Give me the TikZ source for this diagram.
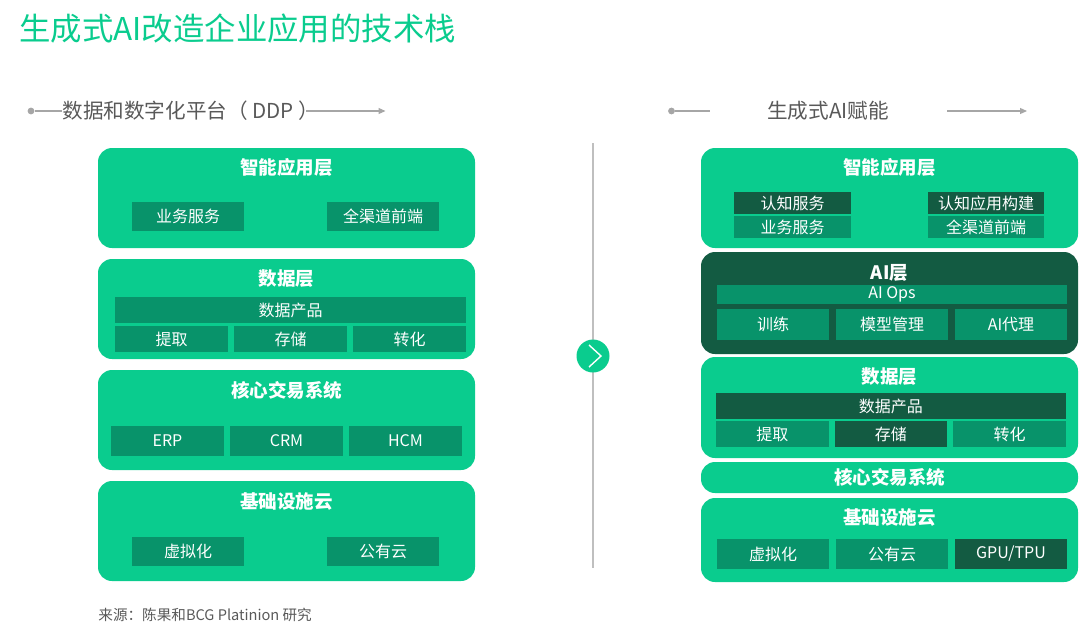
\documentclass[tikz,border=0pt]{standalone}
\usepackage{fontspec}
\setmainfont{Noto Sans CJK SC}
\usepackage{tikz}
\usetikzlibrary{arrows.meta,positioning}
\definecolor{brandgreen}{HTML}{0ACC8E}
\definecolor{midgreen}{HTML}{08936A}
\definecolor{deepgreen}{HTML}{135B42}
\definecolor{textgray}{HTML}{595959}
\definecolor{rulegray}{HTML}{A6A6A6}
\definecolor{dividergray}{HTML}{BFBFBF}

\begin{document}
\begin{tikzpicture}[
  layerbox/.style={fill=brandgreen, rounded corners=7pt, minimum width=188.5pt,
                   minimum height=50pt, inner sep=0pt, outer sep=0pt},
  layertitle/.style={text=white, font=\fontsize{9.25}{11}\selectfont\bfseries, inner sep=0pt},
  subbox/.style={fill=midgreen, text=white, font=\fontsize{8}{9}\selectfont,
                 inner sep=0pt, outer sep=0pt, minimum height=14.5pt},
  deepbox/.style={subbox, fill=deepgreen},
  headtext/.style={text=textgray, font=\fontsize{10.3}{12}\selectfont, inner sep=0pt},
  ruleline/.style={draw=rulegray, line width=0.6pt},
  enddot/.style={circle, fill=rulegray, inner sep=0pt, minimum size=3.4pt},
  rulearrow/.style={ruleline, -{Triangle[length=3.5pt, width=3pt]}}
]
\path[use as bounding box] (0,0) rectangle (540pt,-316pt);

\node[anchor=west, inner sep=0pt, text=brandgreen, font=\fontsize{15.7}{18}\selectfont]
  (title) at (9.5pt,-14.5pt) {生成式AI改造企业应用的技术栈};

% headers
\node[enddot] (ldot) at (15.5pt,-55.5pt) {};
\node[headtext, anchor=west] (ddp) at (31pt,-55.5pt) {数据和数字化平台（ DDP ）};
\coordinate (ddpend) at (192.75pt,-55.5pt);
\draw[ruleline] (ldot) -- (ddp);
\draw[rulearrow, shorten <=-6.5pt] (ddp) -- (ddpend);

\node[enddot] (rdot) at (335.75pt,-55.5pt) {};
\node[headtext] (genai) at (414pt,-55.5pt) {生成式AI赋能};
\coordinate (genaiend) at (513.5pt,-55.5pt);
\draw[ruleline, shorten >=28.5pt] (rdot) -- (genai);
\draw[rulearrow, shorten <=29pt] (genai) -- (genaiend);

% divider
\coordinate (divtop) at (296.5pt,-71.5pt);
\coordinate (divbot) at (296.5pt,-284pt);
\draw[dividergray, line width=0.75pt] (divtop) -- (divbot);
\node[circle, fill=brandgreen, minimum size=16.5pt, inner sep=0pt] (turn) at (296.5pt,-178pt) {};
\draw[white, line width=0.7pt] ([shift={(-2pt,5.5pt)}]turn.center)
  -- ([shift={(4pt,0pt)}]turn.center) -- ([shift={(-2pt,-5.5pt)}]turn.center);

% left stack
\node[layerbox, anchor=north west] (l1) at (49pt,-74pt) {};
\node[layerbox, below=5.5pt of l1] (l2) {};
\node[layerbox, below=5.5pt of l2] (l3) {};
\node[layerbox, below=5.5pt of l3] (l4) {};

\node[layertitle] (l1t) at ([yshift=-9.5pt]l1.north) {智能应用层};
\node[layertitle] (l2t) at ([yshift=-10pt]l2.north) {数据层};
\node[layertitle] (l3t) at ([yshift=-10pt]l3.north) {核心交易系统};
\node[layertitle] (l4t) at ([yshift=-10pt]l4.north) {基础设施云};

\node[subbox, minimum width=56pt, below right=27pt and 17pt of l1.north west] (l1a) {业务服务};
\node[subbox, minimum width=56pt, below left=27pt and 18pt of l1.north east] (l1b) {全渠道前端};

\node[subbox, minimum width=175.5pt, minimum height=13pt,
      below right=19pt and 8.5pt of l2.north west] (l2bar) {数据产品};
\node[subbox, minimum width=56.5pt, minimum height=13pt,
      below right=1.5pt and 0pt of l2bar.south west] (l2a) {提取};
\node[subbox, minimum width=56.5pt, minimum height=13pt, right=3pt of l2a] (l2b) {存储};
\node[subbox, minimum width=56.5pt, minimum height=13pt, right=3pt of l2b] (l2c) {转化};

\node[subbox, minimum width=56.5pt, minimum height=15pt,
      below right=28pt and 6.5pt of l3.north west] (l3a) {ERP};
\node[subbox, minimum width=56.5pt, minimum height=15pt, right=3pt of l3a] (l3b) {CRM};
\node[subbox, minimum width=56.5pt, minimum height=15pt, right=3pt of l3b] (l3c) {HCM};

\node[subbox, minimum width=56pt, below right=28pt and 17pt of l4.north west] (l4a) {虚拟化};
\node[subbox, minimum width=56pt, below left=28pt and 18pt of l4.north east] (l4b) {公有云};

% right stack
\node[layerbox, anchor=north west] (r1) at (350.5pt,-74pt) {};
\node[layerbox, fill=deepgreen, minimum height=51pt, below=2pt of r1] (r2) {};
\node[layerbox, minimum height=50.5pt, below=1.5pt of r2] (r3) {};
\node[layerbox, minimum height=15.5pt, below=2pt of r3] (r4) {};
\node[layerbox, minimum height=42pt, below=2.5pt of r4] (r5) {};

\node[layertitle] (r1t) at ([yshift=-9.5pt]r1.north) {智能应用层};
\node[layertitle] (r2t) at ([yshift=-10.5pt]r2.north) {AI层};
\node[layertitle] (r3t) at ([yshift=-10pt]r3.north) {数据层};
\node[layertitle] (r4t) at (r4.center) {核心交易系统};
\node[layertitle] (r5t) at ([yshift=-9.5pt]r5.north) {基础设施云};

\node[deepbox, minimum width=58.5pt, minimum height=11pt,
      below right=22pt and 16.5pt of r1.north west] (r1a) {认知服务};
\node[subbox, minimum width=58.5pt, minimum height=11pt, below=1pt of r1a] (r1b) {业务服务};
\node[deepbox, minimum width=58pt, minimum height=11pt,
      below left=22pt and 17pt of r1.north east] (r1c) {认知应用构建};
\node[subbox, minimum width=58pt, minimum height=11pt, below=1pt of r1c] (r1d) {全渠道前端};

\node[subbox, minimum width=175pt, minimum height=9.5pt,
      below right=16.5pt and 8pt of r2.north west] (r2bar) {AI Ops};
\node[subbox, minimum width=56pt, minimum height=15.5pt,
      below right=2.5pt and 0pt of r2bar.south west] (r2a) {训练};
\node[subbox, minimum width=56pt, minimum height=15.5pt, right=3.5pt of r2a] (r2b) {模型管理};
\node[subbox, minimum width=56pt, minimum height=15.5pt, right=3.5pt of r2b] (r2c) {AI代理};

\node[deepbox, minimum width=174.9pt, minimum height=13pt,
      below right=18pt and 7.5pt of r3.north west] (r3bar) {数据产品};
\node[subbox, minimum width=56.3pt, minimum height=13pt,
      below right=1pt and 0pt of r3bar.south west] (r3a) {提取};
\node[deepbox, minimum width=56.3pt, minimum height=13pt, right=3pt of r3a] (r3b) {存储};
\node[subbox, minimum width=56.3pt, minimum height=13pt, right=3pt of r3b] (r3c) {转化};

\node[subbox, minimum width=56pt, minimum height=15pt,
      below right=20.5pt and 8pt of r5.north west] (r5a) {虚拟化};
\node[subbox, minimum width=56pt, minimum height=15pt, right=3.5pt of r5a] (r5b) {公有云};
\node[deepbox, minimum width=56pt, minimum height=15pt, right=3.5pt of r5b] (r5c) {GPU/TPU};

\node[anchor=west, inner sep=0pt, text=textgray, font=\fontsize{7.3}{9}\selectfont]
  (source) at (49pt,-307.5pt) {来源：陈果和BCG Platinion 研究};
\end{tikzpicture}
\end{document}
